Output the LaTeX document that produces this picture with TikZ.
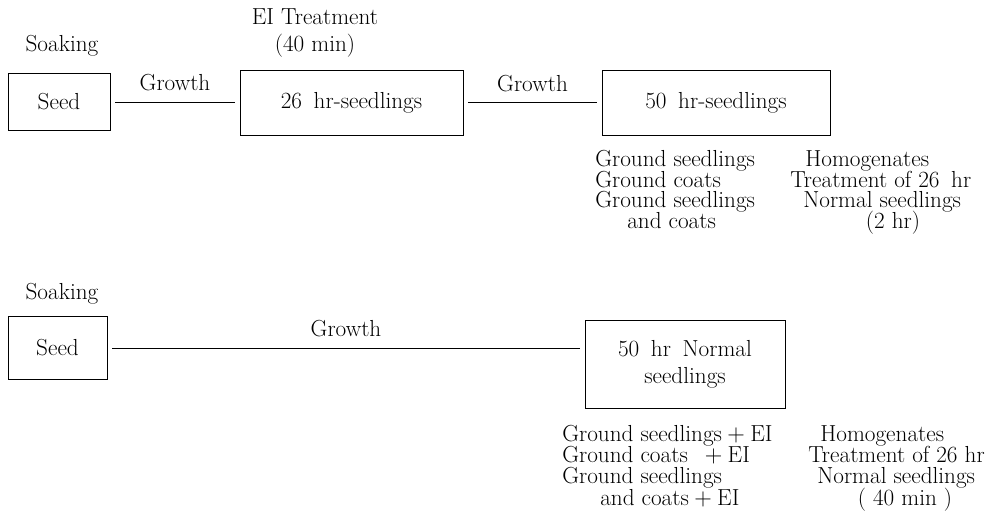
\documentclass[tikz,border=0pt]{standalone}
\usepackage{tikz}
\usetikzlibrary{positioning,calc}

\tikzset{
    box/.style={draw, line width=0.6pt, inner sep=0pt, align=center},
    growline/.style={line width=0.6pt, shorten <=0.125cm, shorten >=0.125cm},
    lbl/.style={inner sep=0pt, anchor=base west},
    ctr/.style={inner sep=0pt, anchor=base},
}

\begin{document}
\begin{tikzpicture}[x=0.025cm, y=-0.025cm, font=\fontsize{16.5}{19}\selectfont]
    \useasboundingbox (0,0) rectangle (996,522);

    % first line: EI treatment of 26 hr seedlings
    \node[box, minimum width=2.55cm, minimum height=1.425cm] (seedA) at (59,102) {Seed};
    \node[box, minimum width=5.575cm, minimum height=1.625cm] (sdlA) at (351.5,102.5) {26\enspace hr-seedlings};
    \node[box, minimum width=5.7cm, minimum height=1.625cm] (sdlB) at (716,102.5) {50\enspace hr-seedlings};

    \node[ctr] (soakA) at (62,51) {Soaking};
    \node[ctr, align=center] (treatA) at (315,51) {EI Treatment\\(40 min)};

    \draw[growline] (seedA.east) -- node[above=4pt] (growA) {Growth} (seedA.east -| sdlA.west);
    \draw[growline] (sdlA.east) -- node[above=4pt] (growB) {Growth} (sdlA.east -| sdlB.west);

    \node[lbl] (gsA) at (595,166) {Ground seedlings};
    \node[lbl] (gcA) at (595,187) {Ground coats};
    \node[lbl] (gscA) at (595,207) {Ground seedlings};
    \node[lbl] (acA) at (627,228) {and coats};
    \node[lbl] (homA) at (805,166) {Homogenates};
    \node[lbl] (trA) at (790,187) {Treatment of 26\enspace hr};
    \node[lbl] (nsA) at (803,207) {Normal seedlings};
    \node[ctr] (tmA) at (893,228) {(2 hr)};

    % second line: normal seedlings
    \node[box, minimum width=2.475cm, minimum height=1.575cm] (seedB) at (57.5,348) {Seed};
    \node[box, minimum width=5cm, minimum height=2.2cm] (normB) at (685,364) {50\enspace hr\enspace Normal\\seedlings};

    \node[ctr] (soakB) at (62,299) {Soaking};

    \draw[growline] (seedB.east) -- node[above=4pt] (growC) {Growth} (seedB.east -| normB.west);

    \node[lbl] (gsB) at (562,441) {Ground seedlings${}+{}$EI};
    \node[lbl] (gcB) at (562,462) {Ground coats\enspace${}+{}$EI};
    \node[lbl] (gscB) at (562,483) {Ground seedlings};
    \node[lbl] (acB) at (600,505) {and coats${}+{}$EI};
    \node[lbl] (homB) at (820,441) {Homogenates};
    \node[lbl] (trB) at (808,462) {Treatment of 26 hr};
    \node[lbl] (nsB) at (817,483) {Normal seedlings};
    \node[ctr] (tmB) at (905,505) {( 40 min )};

\end{tikzpicture}
\end{document}
